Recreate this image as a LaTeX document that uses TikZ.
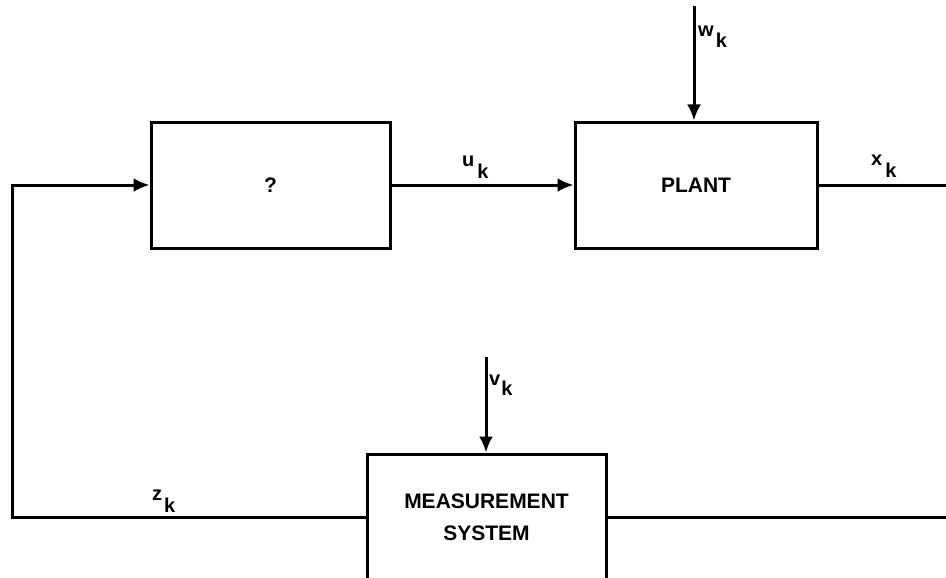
\documentclass[tikz,border=0pt]{standalone}
\usepackage{fontspec}
\setmainfont{Liberation Sans}
\usetikzlibrary{arrows.meta}
\begin{document}
\begin{tikzpicture}[x=1pt,y=-1pt,line join=miter,
  blk/.style={draw,line width=3pt,inner sep=0pt,font=\fontsize{21}{32}\selectfont\bfseries,align=center},
  wire/.style={line width=3pt},
  arr/.style={wire,-{Latex[length=16pt,width=14pt]}},
  sig/.style={anchor=base west,inner sep=0pt,font=\fontsize{20}{20}\selectfont\bfseries}]
\useasboundingbox (0,0) rectangle (946,578);
\clip (0,0) rectangle (946,578);
\fill[white] (0,0) rectangle (946,578);
% blocks
\node[blk,minimum width=239pt,minimum height=126pt] (q) at (270.5,185) {?};
\node[blk,minimum width=242pt,minimum height=126pt] (plant) at (696,185) {PLANT};
\node[blk,minimum width=239pt,minimum height=126pt] (meas) at (486.5,517) {MEASUREMENT\\SYSTEM};
% coordinates
\coordinate (wtop) at (694,6);
\coordinate (vtop) at (486,357);
\coordinate (xend) at (950,185);
\coordinate (mend) at (950,517);
\coordinate (lc) at (12,300);
% connectors
\draw[arr] (q.east) -- (plant.west);
\draw[arr] (wtop) -- (wtop |- plant.north);
\draw[wire] (plant.east) -- (xend);
\draw[arr] (vtop) -- (vtop |- meas.north);
\draw[wire] (meas.east) -- (mend);
\draw[arr] (meas.west) -| (lc) |- (q.west);
% labels
\node[sig] (ulab) at (462,166) {u\hspace{3pt}\raisebox{-12pt}{k}};
\node[sig] (wlab) at (698,37) {w\hspace{2pt}\raisebox{-11pt}{k}};
\node[sig] (xlab) at (871,165) {x\hspace{3pt}\raisebox{-12pt}{k}};
\node[sig] (zlab) at (152,500) {z\hspace{2pt}\raisebox{-12pt}{k}};
\node[sig] (vlab) at (489,385) {v\hspace{1pt}\raisebox{-10pt}{k}};
\end{tikzpicture}
\end{document}
